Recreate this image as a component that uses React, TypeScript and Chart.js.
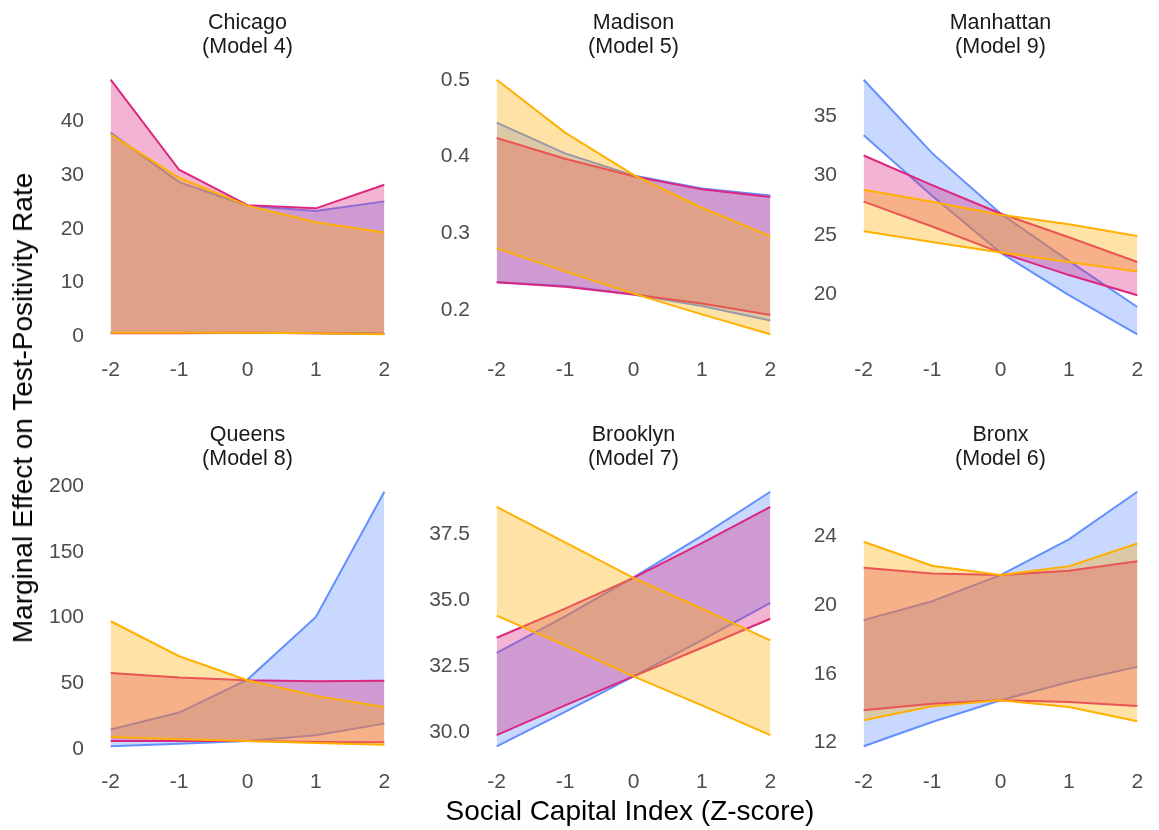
import React, { useEffect, useRef } from "react";
import { Chart, registerables } from "chart.js";

Chart.register(...registerables);

// Social capital index (z-score) evaluation points
const zScores = [-2, -1, 0, 1, 2];
const xTicks = [-2, -1, 0, 1, 2];

// Chicago (Model 4)
const chicagoBlueHi = [37.9, 28.7, 24.3, 23.3, 25.1];
const chicagoBlueLo = [0.6, 0.6, 0.6, 0.5, 0.4];
const chicagoMagentaHi = [47.8, 31.0, 24.4, 23.8, 28.2];
const chicagoMagentaLo = [0.5, 0.5, 0.6, 0.5, 0.4];
const chicagoGoldHi = [37.6, 29.5, 24.3, 21.2, 19.3];
const chicagoGoldLo = [0.6, 0.6, 0.6, 0.5, 0.3];
const chicagoTicks = [0, 10, 20, 30, 40];

// Madison (Model 5)
const madisonBlueHi = [0.444, 0.404, 0.375, 0.358, 0.349];
const madisonBlueLo = [0.236, 0.231, 0.22, 0.205, 0.186];
const madisonMagentaHi = [0.424, 0.397, 0.374, 0.357, 0.347];
const madisonMagentaLo = [0.236, 0.23, 0.22, 0.208, 0.193];
const madisonGoldHi = [0.5, 0.431, 0.376, 0.333, 0.296];
const madisonGoldLo = [0.28, 0.25, 0.221, 0.194, 0.168];
const madisonTicks = [0.2, 0.3, 0.4, 0.5];

// Manhattan (Model 9)
const manhattanBlueHi = [38.1, 31.9, 26.8, 22.8, 18.9];
const manhattanBlueLo = [33.4, 28.3, 23.5, 19.9, 16.6];
const manhattanMagentaHi = [31.7, 29.2, 26.8, 24.8, 22.7];
const manhattanMagentaLo = [27.8, 25.7, 23.5, 21.6, 19.9];
const manhattanGoldHi = [28.8, 27.8, 26.7, 25.9, 24.9];
const manhattanGoldLo = [25.3, 24.4, 23.5, 22.7, 21.9];
const manhattanTicks = [20, 25, 30, 35];

// Queens (Model 8)
const queensBlueHi = [15.0, 27.9, 53.0, 100.6, 195.7];
const queensBlueLo = [2.3, 4.3, 6.3, 10.6, 19.5];
const queensMagentaHi = [58.0, 54.5, 52.5, 51.7, 52.0];
const queensMagentaLo = [6.3, 6.3, 6.3, 5.6, 5.3];
const queensGoldHi = [97.3, 70.7, 52.5, 40.6, 32.2];
const queensGoldLo = [9.4, 7.6, 6.3, 4.8, 3.5];
const queensTicks = [0, 50, 100, 150, 200];

// Brooklyn (Model 7)
const brooklynBlueHi = [33.02, 34.4, 35.88, 37.45, 39.12];
const brooklynBlueLo = [29.48, 30.78, 32.13, 33.5, 34.91];
const brooklynMagentaHi = [33.59, 34.69, 35.86, 37.17, 38.55];
const brooklynMagentaLo = [29.9, 31.03, 32.13, 33.21, 34.31];
const brooklynGoldHi = [38.55, 37.2, 35.86, 34.69, 33.49];
const brooklynGoldLo = [34.43, 33.3, 32.13, 31.03, 29.9];
const brooklynTicks = [30, 32.5, 35, 37.5];

// Bronx (Model 6)
const bronxBlueHi = [19.13, 20.23, 21.75, 23.83, 26.6];
const bronxBlueLo = [11.79, 13.2, 14.47, 15.53, 16.41];
const bronxMagentaHi = [22.17, 21.84, 21.75, 22.0, 22.56];
const bronxMagentaLo = [13.88, 14.27, 14.47, 14.37, 14.14];
const bronxGoldHi = [23.69, 22.29, 21.75, 22.27, 23.59];
const bronxGoldLo = [13.3, 14.12, 14.47, 14.08, 13.24];
const bronxTicks = [12, 16, 20, 24];

const BLUE = "#648FFF";
const MAGENTA = "#DC267F";
const GOLD = "#FFB000";
const FILL_ALPHA = 0.35;

const FONT = "'Liberation Sans', Arial, Helvetica, sans-serif";
const TICK_COLOR = "#4d4d4d";
const TITLE_COLOR = "#1a1a1a";

// Panel geometry (pixels)
const Y_AXIS_W = 62;
const X_AXIS_H = 40;
const PLOT_W = 301;
const PAD_TOP = 67;
const PAD_RIGHT = 10;
const CANVAS_W = Y_AXIS_W + PLOT_W + PAD_RIGHT;
const CANVAS_H = PAD_TOP + 280 + X_AXIS_H;
const COL_PLOT_LEFT = [97, 483, 850];
const ROW_TOP = [0, 412];

type Band = { hi: number[]; lo: number[] };
type PanelDef = {
  title: string[];
  blue: Band;
  magenta: Band;
  gold: Band;
  ticks: number[];
  decimals: number;
  col: number;
  row: number;
};

const panels: PanelDef[] = [
  {
    title: ["Chicago", "(Model 4)"],
    blue: { hi: chicagoBlueHi, lo: chicagoBlueLo },
    magenta: { hi: chicagoMagentaHi, lo: chicagoMagentaLo },
    gold: { hi: chicagoGoldHi, lo: chicagoGoldLo },
    ticks: chicagoTicks,
    decimals: 0,
    col: 0,
    row: 0,
  },
  {
    title: ["Madison", "(Model 5)"],
    blue: { hi: madisonBlueHi, lo: madisonBlueLo },
    magenta: { hi: madisonMagentaHi, lo: madisonMagentaLo },
    gold: { hi: madisonGoldHi, lo: madisonGoldLo },
    ticks: madisonTicks,
    decimals: 1,
    col: 1,
    row: 0,
  },
  {
    title: ["Manhattan", "(Model 9)"],
    blue: { hi: manhattanBlueHi, lo: manhattanBlueLo },
    magenta: { hi: manhattanMagentaHi, lo: manhattanMagentaLo },
    gold: { hi: manhattanGoldHi, lo: manhattanGoldLo },
    ticks: manhattanTicks,
    decimals: 0,
    col: 2,
    row: 0,
  },
  {
    title: ["Queens", "(Model 8)"],
    blue: { hi: queensBlueHi, lo: queensBlueLo },
    magenta: { hi: queensMagentaHi, lo: queensMagentaLo },
    gold: { hi: queensGoldHi, lo: queensGoldLo },
    ticks: queensTicks,
    decimals: 0,
    col: 0,
    row: 1,
  },
  {
    title: ["Brooklyn", "(Model 7)"],
    blue: { hi: brooklynBlueHi, lo: brooklynBlueLo },
    magenta: { hi: brooklynMagentaHi, lo: brooklynMagentaLo },
    gold: { hi: brooklynGoldHi, lo: brooklynGoldLo },
    ticks: brooklynTicks,
    decimals: 1,
    col: 1,
    row: 1,
  },
  {
    title: ["Bronx", "(Model 6)"],
    blue: { hi: bronxBlueHi, lo: bronxBlueLo },
    magenta: { hi: bronxMagentaHi, lo: bronxMagentaLo },
    gold: { hi: bronxGoldHi, lo: bronxGoldLo },
    ticks: bronxTicks,
    decimals: 0,
    col: 2,
    row: 1,
  },
];

function withAlpha(hex: string, a: number) {
  const n = parseInt(hex.slice(1), 16);
  return `rgba(${(n >> 16) & 255}, ${(n >> 8) & 255}, ${n & 255}, ${a})`;
}

const toPoints = (vals: number[]) => zScores.map((x, i) => ({ x, y: vals[i] }));

// Each band: the upper edge fills down to the lower edge; a higher `order`
// is painted first, so later bands' fills wash over earlier bands' lines.
function bandDatasets(band: Band, color: string, order: number) {
  const common = {
    borderColor: color,
    borderWidth: 2,
    pointRadius: 0,
    pointHoverRadius: 0,
    tension: 0,
  };
  return [
    {
      ...common,
      data: toPoints(band.hi),
      backgroundColor: withAlpha(color, FILL_ALPHA),
      fill: "+1",
      order: order + 1,
    },
    {
      ...common,
      data: toPoints(band.lo),
      backgroundColor: "transparent",
      fill: false,
      order,
    },
  ];
}

// 5% padding on each side of the data, as in a faceted ribbon plot
function paddedRange(p: PanelDef) {
  const all = [
    ...p.blue.hi, ...p.blue.lo,
    ...p.magenta.hi, ...p.magenta.lo,
    ...p.gold.hi, ...p.gold.lo,
  ];
  const lo = Math.min(...all);
  const hi = Math.max(...all);
  const pad = (hi - lo) * 0.05;
  return { min: lo - pad, max: hi + pad };
}

const panelTitlePlugin = {
  id: "panelTitle",
  afterDraw(chart: any, _args: any, opts: any) {
    const { ctx, chartArea } = chart;
    const lines: string[] = opts.lines || [];
    const cx = (chartArea.left + chartArea.right) / 2;
    ctx.save();
    ctx.font = `21.5px ${FONT}`;
    ctx.fillStyle = TITLE_COLOR;
    ctx.textAlign = "center";
    ctx.textBaseline = "alphabetic";
    lines.forEach((line, i) => ctx.fillText(line, cx, 29.3 + i * 24));
    ctx.restore();
  },
};

function Panel({ def }: { def: PanelDef }) {
  const ref = useRef<HTMLCanvasElement | null>(null);

  useEffect(() => {
    if (!ref.current) return;
    const range = paddedRange(def);
    const chart = new Chart(ref.current, {
      type: "line",
      data: {
        datasets: [
          ...bandDatasets(def.blue, BLUE, 5),
          ...bandDatasets(def.magenta, MAGENTA, 3),
          ...bandDatasets(def.gold, GOLD, 1),
        ] as any,
      },
      options: {
        animation: false,
        responsive: false,
        events: [],
        layout: { padding: { top: PAD_TOP, right: PAD_RIGHT, left: 0, bottom: 0 } },
        plugins: {
          legend: { display: false },
          tooltip: { enabled: false },
          panelTitle: { lines: def.title },
        } as any,
        scales: {
          x: {
            type: "linear",
            min: -2.2,
            max: 2.2,
            grid: { display: false, drawTicks: false },
            border: { display: false },
            ticks: {
              autoSkip: false,
              maxRotation: 0,
              padding: 11,
              color: TICK_COLOR,
              font: { family: FONT, size: 21 },
              callback: (v: any) => String(v),
            },
            afterBuildTicks: (scale: any) => {
              scale.ticks = xTicks.map((value) => ({ value }));
            },
            afterFit: (scale: any) => {
              scale.height = X_AXIS_H;
            },
          },
          y: {
            type: "linear",
            min: range.min,
            max: range.max,
            grid: { display: false, drawTicks: false },
            border: { display: false },
            ticks: {
              autoSkip: false,
              padding: 13,
              color: TICK_COLOR,
              font: { family: FONT, size: 21 },
              callback: (v: any) => Number(v).toFixed(def.decimals),
            },
            afterBuildTicks: (scale: any) => {
              scale.ticks = def.ticks.map((value) => ({ value }));
            },
            afterFit: (scale: any) => {
              scale.width = Y_AXIS_W;
            },
          },
        },
      } as any,
      plugins: [panelTitlePlugin],
    });
    return () => chart.destroy();
  }, [def]);

  return (
    <canvas
      ref={ref}
      width={CANVAS_W}
      height={CANVAS_H}
      style={{
        position: "absolute",
        left: COL_PLOT_LEFT[def.col] - Y_AXIS_W,
        top: ROW_TOP[def.row],
        width: CANVAS_W,
        height: CANVAS_H,
      }}
    />
  );
}

export default function App() {
  return (
    <div
      style={{
        position: "fixed",
        left: 0,
        top: 0,
        width: 1159,
        height: 830,
        overflow: "hidden",
        background: "#ffffff",
        fontFamily: FONT,
      }}
    >
      {panels.map((p) => (
        <Panel key={p.title[0]} def={p} />
      ))}
      <div
        style={{
          position: "absolute",
          left: 23,
          top: 408,
          transform: "translate(-50%, -50%) rotate(-90deg)",
          whiteSpace: "nowrap",
          fontSize: 28,
          lineHeight: "normal",
          color: "#000000",
        }}
      >
        Marginal Effect on Test-Positivity Rate
      </div>
      <div
        style={{
          position: "absolute",
          left: 630,
          top: 810.5,
          transform: "translate(-50%, -50%)",
          whiteSpace: "nowrap",
          fontSize: 28,
          lineHeight: "normal",
          color: "#000000",
        }}
      >
        Social Capital Index (Z-score)
      </div>
    </div>
  );
}
